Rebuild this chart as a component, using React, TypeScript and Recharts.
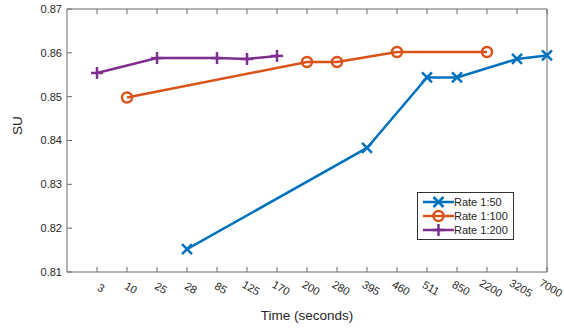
import React from 'react';
import { LineChart, Line, XAxis, YAxis } from 'recharts';

const categories = ['3', '10', '25', '28', '85', '125', '170', '200', '280', '395', '460', '511', '850', '2200', '3205', '7000'];
const rate50 = [null, null, null, 0.8152, null, null, null, null, null, 0.8383, null, 0.8544, 0.8544, null, 0.8586, 0.8594];
const rate100 = [null, 0.8498, null, null, null, null, null, 0.8579, 0.8579, null, 0.8602, null, null, 0.8602, null, null];
const rate200 = [0.8554, null, 0.8588, null, 0.8588, 0.8586, 0.8593, null, null, null, null, null, null, null, null, null];
const yTicks = [0.81, 0.82, 0.83, 0.84, 0.85, 0.86, 0.87];

const BLUE = '#0072BD';
const ORANGE = '#D95319';
const PURPLE = '#7E2F8E';
const TEXT = '#262626';
const AXIS = '#6b6b6b';
const FONT = '"Liberation Sans", Arial, Helvetica, sans-serif';

const data = categories.map((c, i) => ({ pos: i + 1, label: c, r50: rate50[i], r100: rate100[i], r200: rate200[i] }));
const xTicks = categories.map((_, i) => i + 1);

function marker(kind: string, color: string, cx: number, cy: number, key?: any) {
  if (kind === 'x') {
    return (
      <g key={key}>
        <line x1={cx - 5} y1={cy - 5} x2={cx + 5} y2={cy + 5} stroke={color} strokeWidth={2.5} />
        <line x1={cx - 5} y1={cy + 5} x2={cx + 5} y2={cy - 5} stroke={color} strokeWidth={2.5} />
      </g>
    );
  }
  if (kind === 'o') {
    return <circle key={key} cx={cx} cy={cy} r={5} fill="none" stroke={color} strokeWidth={2.5} />;
  }
  return (
    <g key={key}>
      <line x1={cx - 6} y1={cy} x2={cx + 6} y2={cy} stroke={color} strokeWidth={2.5} />
      <line x1={cx} y1={cy - 6} x2={cx} y2={cy + 6} stroke={color} strokeWidth={2.5} />
    </g>
  );
}

const makeDot = (kind: string, color: string) => (props: any) => {
  const { cx, cy, value, index } = props;
  if (value == null || cx == null || cy == null) return <g key={`e${index}`} />;
  return marker(kind, color, cx, cy, `d${index}`);
};

const BottomTick = (props: any) => {
  const { x, y, payload } = props;
  return (
    <g>
      <line x1={x} y1={y} x2={x} y2={y - 5} stroke={AXIS} />
      <text
        x={0}
        y={0}
        dy="0.35em"
        textAnchor="middle"
        fontSize={11}
        fill={TEXT}
        fontFamily={FONT}
        transform={`translate(${x + 4},${y + 16}) rotate(30)`}
      >
        {categories[payload.value - 1]}
      </text>
    </g>
  );
};

const TopTick = (props: any) => {
  const { x, y } = props;
  return <line x1={x} y1={y} x2={x} y2={y + 5} stroke={AXIS} />;
};

const LeftTick = (props: any) => {
  const { x, y, payload } = props;
  return (
    <g>
      <line x1={x} y1={y} x2={x + 5} y2={y} stroke={AXIS} />
      <text x={x - 5} y={y} dy="0.35em" textAnchor="end" fontSize={11} fill={TEXT} fontFamily={FONT}>
        {payload.value.toFixed(2)}
      </text>
    </g>
  );
};

const RightTick = (props: any) => {
  const { x, y } = props;
  return <line x1={x} y1={y} x2={x - 5} y2={y} stroke={AXIS} />;
};

const XTitle = (props: any) => {
  const vb = props.viewBox || {};
  return (
    <text x={vb.x + vb.width / 2} y={vb.y + 43} dy="0.35em" textAnchor="middle" fontSize={13.5} fill={TEXT} fontFamily={FONT}>
      Time (seconds)
    </text>
  );
};

const YTitle = (props: any) => {
  const vb = props.viewBox || {};
  const cx = 17.5;
  const cy = vb.y + vb.height / 2 - 15;
  return (
    <text x={cx} y={cy} dy="0.35em" textAnchor="middle" fontSize={13.5} fill={TEXT} fontFamily={FONT} transform={`rotate(-90, ${cx}, ${cy})`}>
      SU
    </text>
  );
};

const legendItems = [
  { name: 'Rate 1:50', color: BLUE, kind: 'x' },
  { name: 'Rate 1:100', color: ORANGE, kind: 'o' },
  { name: 'Rate 1:200', color: PURPLE, kind: '+' },
];

const LegendBox = () => (
  <div
    style={{
      position: 'absolute',
      left: 417,
      top: 192,
      background: '#fff',
      border: '1px solid #333',
      width: 97,
      height: 48,
      boxSizing: 'border-box',
      padding: '2px 0 0 5px',
    }}
  >
    {legendItems.map((it) => (
      <div key={it.name} style={{ display: 'flex', alignItems: 'center', height: 14 }}>
        <svg width={31} height={14}>
          <line x1={0} y1={7} x2={31} y2={7} stroke={it.color} strokeWidth={2.5} />
          {marker(it.kind, it.color, 15.5, 7)}
        </svg>
        <span style={{ fontFamily: FONT, fontSize: 11, color: TEXT, marginLeft: 0, lineHeight: '13px' }}>{it.name}</span>
      </div>
    ))}
  </div>
);

export default function App() {
  return (
    <div style={{ position: 'absolute', left: 0, top: 0, width: 564, height: 329, background: '#fff' }}>
      <LineChart width={564} height={329} data={data} margin={{ top: 8, right: 16, left: 0, bottom: 0 }}>
        <XAxis
          dataKey="pos"
          type="number"
          domain={[0, 16]}
          ticks={xTicks}
          interval={0}
          height={57}
          tickSize={0}
          tickMargin={0}
          tickLine={false}
          axisLine={{ stroke: AXIS }}
          tick={<BottomTick />}
          label={<XTitle />}
        />
        <XAxis
          xAxisId="top"
          orientation="top"
          dataKey="pos"
          type="number"
          domain={[0, 16]}
          ticks={xTicks}
          interval={0}
          height={1}
          tickSize={0}
          tickMargin={0}
          tickLine={false}
          axisLine={{ stroke: AXIS }}
          tick={<TopTick />}
        />
        <YAxis
          domain={[0.81, 0.87]}
          ticks={yTicks}
          interval={0}
          width={67}
          tickSize={0}
          tickMargin={0}
          tickLine={false}
          axisLine={{ stroke: AXIS }}
          tick={<LeftTick />}
          label={<YTitle />}
        />
        <YAxis
          yAxisId="right"
          orientation="right"
          domain={[0.81, 0.87]}
          ticks={yTicks}
          interval={0}
          width={1}
          tickSize={0}
          tickMargin={0}
          tickLine={false}
          axisLine={{ stroke: AXIS }}
          tick={<RightTick />}
        />
        <Line dataKey="r50" stroke={BLUE} strokeWidth={2.5} connectNulls dot={makeDot('x', BLUE)} isAnimationActive={false} />
        <Line dataKey="r100" stroke={ORANGE} strokeWidth={2.5} connectNulls dot={makeDot('o', ORANGE)} isAnimationActive={false} />
        <Line dataKey="r200" stroke={PURPLE} strokeWidth={2.5} connectNulls dot={makeDot('+', PURPLE)} isAnimationActive={false} />
      </LineChart>
      <LegendBox />
    </div>
  );
}
